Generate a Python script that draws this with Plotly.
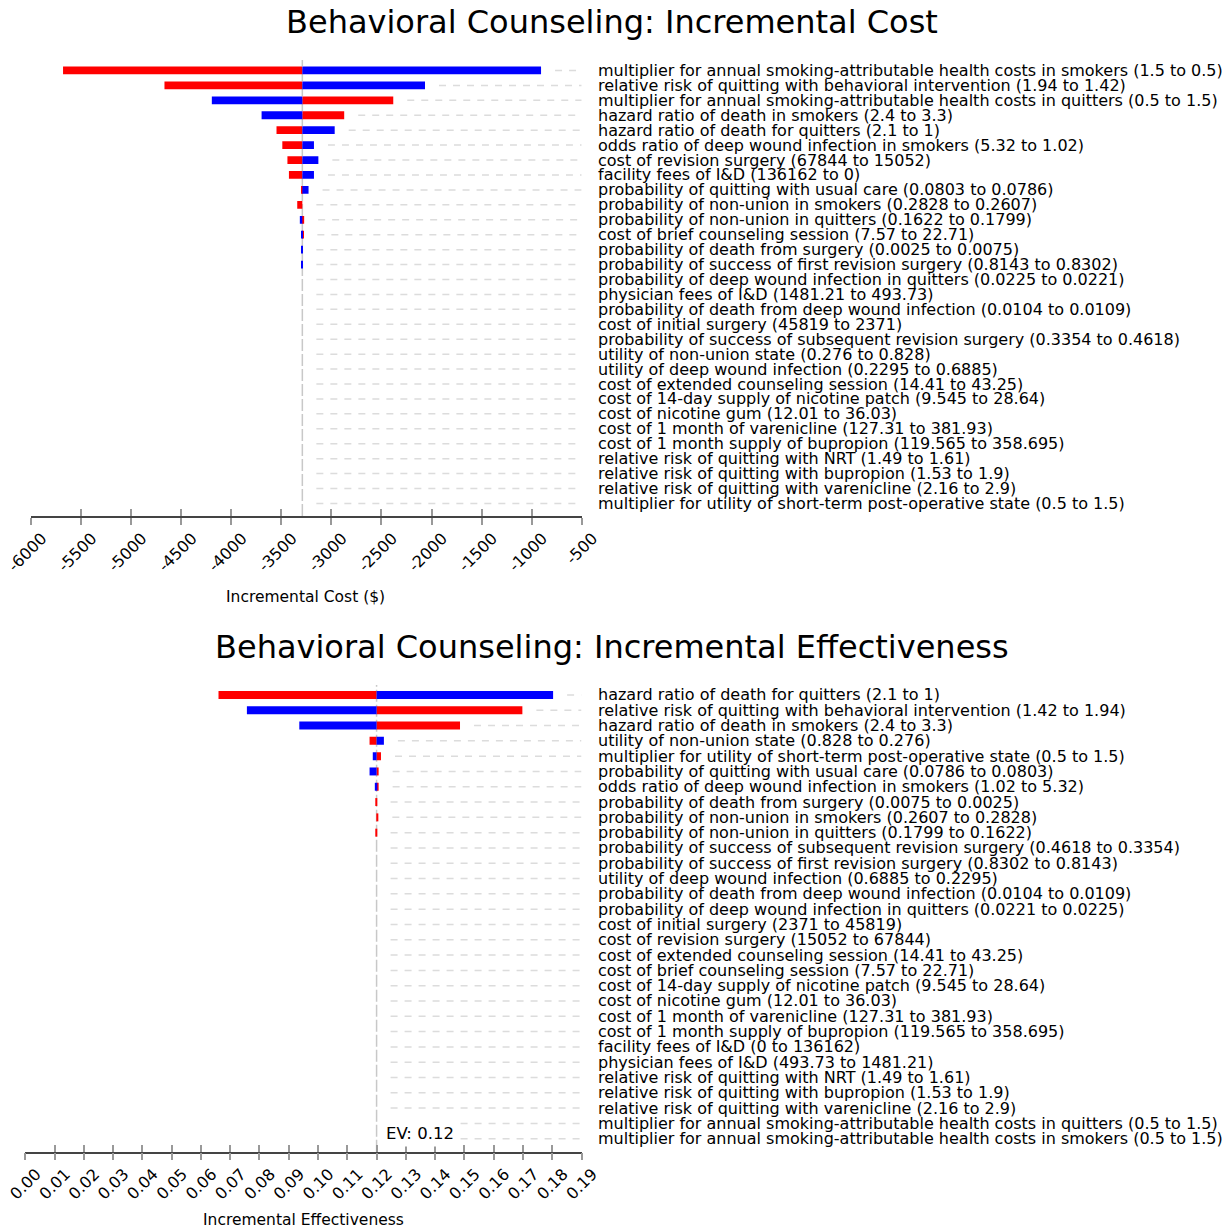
import plotly.graph_objects as go

# ---------------- data ----------------
cost_labels = [
    "multiplier for annual smoking-attributable health costs in smokers (1.5 to 0.5)",
    "relative risk of quitting with behavioral intervention (1.94 to 1.42)",
    "multiplier for annual smoking-attributable health costs in quitters (0.5 to 1.5)",
    "hazard ratio of death in smokers (2.4 to 3.3)",
    "hazard ratio of death for quitters (2.1 to 1)",
    "odds ratio of deep wound infection in smokers (5.32 to 1.02)",
    "cost of revision surgery (67844 to 15052)",
    "facility fees of I&D (136162 to 0)",
    "probability of quitting with usual care (0.0803 to 0.0786)",
    "probability of non-union in smokers (0.2828 to 0.2607)",
    "probability of non-union in quitters (0.1622 to 0.1799)",
    "cost of brief counseling session (7.57 to 22.71)",
    "probability of death from surgery (0.0025 to 0.0075)",
    "probability of success of first revision surgery (0.8143 to 0.8302)",
    "probability of deep wound infection in quitters (0.0225 to 0.0221)",
    "physician fees of I&D (1481.21 to 493.73)",
    "probability of death from deep wound infection (0.0104 to 0.0109)",
    "cost of initial surgery (45819 to 2371)",
    "probability of success of subsequent revision surgery (0.3354 to 0.4618)",
    "utility of non-union state (0.276 to 0.828)",
    "utility of deep wound infection (0.2295 to 0.6885)",
    "cost of extended counseling session (14.41 to 43.25)",
    "cost of 14-day supply of nicotine patch (9.545 to 28.64)",
    "cost of nicotine gum (12.01 to 36.03)",
    "cost of 1 month of varenicline (127.31 to 381.93)",
    "cost of 1 month supply of bupropion (119.565 to 358.695)",
    "relative risk of quitting with NRT (1.49 to 1.61)",
    "relative risk of quitting with bupropion (1.53 to 1.9)",
    "relative risk of quitting with varenicline (2.16 to 2.9)",
    "multiplier for utility of short-term post-operative state (0.5 to 1.5)",
]
cost_ev = -3290
cost_red = [-5680, -4667, -2382, -2872, -3548, -3490, -3439, -3424, -3301, -3341,
            -3272, -3280, -3290, -3290, -3290, -3290, -3290, -3290, -3290, -3290,
            -3290, -3290, -3290, -3290, -3290, -3290, -3290, -3290, -3290, -3290]
cost_blue = [-906, -2065, -4194, -3697, -2967, -3174, -3130, -3174, -3228, -3290,
             -3315, -3300, -3300, -3300, -3290, -3290, -3290, -3290, -3290, -3290,
             -3290, -3290, -3290, -3290, -3290, -3290, -3290, -3290, -3290, -3290]
cost_ticks = [-6000, -5500, -5000, -4500, -4000, -3500, -3000, -2500, -2000, -1500, -1000, -500]
cost_tick_text = ["-6000", "-5500", "-5000", "-4500", "-4000", "-3500", "-3000", "-2500",
                  "-2000", "-1500", "-1000", "-500"]

eff_labels = [
    "hazard ratio of death for quitters (2.1 to 1)",
    "relative risk of quitting with behavioral intervention (1.42 to 1.94)",
    "hazard ratio of death in smokers (2.4 to 3.3)",
    "utility of non-union state (0.828 to 0.276)",
    "multiplier for utility of short-term post-operative state (0.5 to 1.5)",
    "probability of quitting with usual care (0.0786 to 0.0803)",
    "odds ratio of deep wound infection in smokers (1.02 to 5.32)",
    "probability of death from surgery (0.0075 to 0.0025)",
    "probability of non-union in smokers (0.2607 to 0.2828)",
    "probability of non-union in quitters (0.1799 to 0.1622)",
    "probability of success of subsequent revision surgery (0.4618 to 0.3354)",
    "probability of success of first revision surgery (0.8302 to 0.8143)",
    "utility of deep wound infection (0.6885 to 0.2295)",
    "probability of death from deep wound infection (0.0104 to 0.0109)",
    "probability of deep wound infection in quitters (0.0221 to 0.0225)",
    "cost of initial surgery (2371 to 45819)",
    "cost of revision surgery (15052 to 67844)",
    "cost of extended counseling session (14.41 to 43.25)",
    "cost of brief counseling session (7.57 to 22.71)",
    "cost of 14-day supply of nicotine patch (9.545 to 28.64)",
    "cost of nicotine gum (12.01 to 36.03)",
    "cost of 1 month of varenicline (127.31 to 381.93)",
    "cost of 1 month supply of bupropion (119.565 to 358.695)",
    "facility fees of I&D (0 to 136162)",
    "physician fees of I&D (493.73 to 1481.21)",
    "relative risk of quitting with NRT (1.49 to 1.61)",
    "relative risk of quitting with bupropion (1.53 to 1.9)",
    "relative risk of quitting with varenicline (2.16 to 2.9)",
    "multiplier for annual smoking-attributable health costs in quitters (0.5 to 1.5)",
    "multiplier for annual smoking-attributable health costs in smokers (0.5 to 1.5)",
]
eff_ev = 0.12
eff_red = [0.0660, 0.1698, 0.1485, 0.1176, 0.1215, 0.1207, 0.1207, 0.1197, 0.1206, 0.1197,
           0.12, 0.12, 0.12, 0.12, 0.12, 0.12, 0.12, 0.12, 0.12, 0.12,
           0.12, 0.12, 0.12, 0.12, 0.12, 0.12, 0.12, 0.12, 0.12, 0.12]
eff_blue = [0.1803, 0.0757, 0.0936, 0.1225, 0.1187, 0.1176, 0.1194, 0.12, 0.12, 0.12,
            0.12, 0.12, 0.12, 0.12, 0.12, 0.12, 0.12, 0.12, 0.12, 0.12,
            0.12, 0.12, 0.12, 0.12, 0.12, 0.12, 0.12, 0.12, 0.12, 0.12]
eff_ticks = [0.00, 0.01, 0.02, 0.03, 0.04, 0.05, 0.06, 0.07, 0.08, 0.09,
             0.10, 0.11, 0.12, 0.13, 0.14, 0.15, 0.16, 0.17, 0.18, 0.19]
eff_tick_text = ["0.00", "0.01", "0.02", "0.03", "0.04", "0.05", "0.06", "0.07", "0.08", "0.09",
                 "0.10", "0.11", "0.12", "0.13", "0.14", "0.15", "0.16", "0.17", "0.18", "0.19"]

# ---------------- styling ----------------
W, H = 1231, 1230
FONT = "DejaVu Sans"
RED, BLUE = "#ff0000", "#0000ff"
DASH_COLOR = "#dcdcdc"


def px(x):
    return x / W


def py(y):
    return 1 - y / H


charts = [
    dict(labels=cost_labels, red=cost_red, blue=cost_blue, ev=cost_ev,
         ticks=cost_ticks, ticktext=cost_tick_text, rng=[-6000, -500],
         xa="x", ya="y", xa_in="x3", px_left=31, px_right=581.7, py_top=60, py_bot=516,
         yr=[29.84, -0.7], title="Behavioral Counseling: Incremental Cost", title_y=22,
         axis_title="Incremental Cost ($)", axis_title_x=305, axis_title_y=597,
         dash_gap_px=14),
    dict(labels=eff_labels, red=eff_red, blue=eff_blue, ev=eff_ev,
         ticks=eff_ticks, ticktext=eff_tick_text, rng=[0, 0.19],
         xa="x2", ya="y2", xa_in="x4", px_left=25.3, px_right=581.5, py_top=685, py_bot=1151.7,
         yr=[29.85, -0.65], title="Behavioral Counseling: Incremental Effectiveness", title_y=647,
         axis_title="Incremental Effectiveness", axis_title_x=303, axis_title_y=1220,
         dash_gap_px=14),
]

fig = go.Figure()
annotations = []
shapes = []
layout_axes = {}

for c in charts:
    labels, ev = c["labels"], c["ev"]
    span = c["rng"][1] - c["rng"][0]
    upp = span / (c["px_right"] - c["px_left"])  # data units per pixel
    gap = c["dash_gap_px"] * upp

    # dashed guide lines from end of bars to right edge
    dx, dy = [], []
    for lab, r, b in zip(labels, c["red"], c["blue"]):
        dx += [max(ev, r, b) + gap, c["rng"][1], None]
        dy += [lab, lab, None]
    fig.add_trace(go.Scatter(x=dx, y=dy, mode="lines", xaxis=c["xa"], yaxis=c["ya"],
                             line=dict(color=DASH_COLOR, width=1.5, dash="7px,7px"),
                             hoverinfo="skip", showlegend=False))

    for vals, col in ((c["red"], RED), (c["blue"], BLUE)):
        fig.add_trace(go.Bar(y=labels, x=[v - ev for v in vals], base=ev, orientation="h",
                             marker=dict(color=col, line=dict(width=0)), width=0.52,
                             xaxis=c["xa"], yaxis=c["ya"], showlegend=False))

    # invisible trace to carry the inner-tick overlay axis
    fig.add_trace(go.Scatter(x=[ev], y=[labels[0]], mode="markers", marker=dict(opacity=0),
                             xaxis=c["xa_in"], yaxis=c["ya"], hoverinfo="skip", showlegend=False))

    # EV reference line
    shapes.append(dict(type="line", xref=c["xa"], yref=c["ya"] + " domain", x0=ev, x1=ev, y0=0, y1=1,
                       line=dict(color="#c8c8c8", width=1.5, dash="12px,3px"), layer="below"))

    xdom = [px(c["px_left"]), px(c["px_right"])]
    ydom = [py(c["py_bot"]), py(c["py_top"])]
    xkey = "xaxis" if c["xa"] == "x" else "xaxis" + c["xa"][1:]
    ykey = "yaxis" if c["ya"] == "y" else "yaxis" + c["ya"][1:]
    xinkey = "xaxis" + c["xa_in"][1:]
    layout_axes[xkey] = dict(domain=xdom, anchor=c["ya"], range=c["rng"], tickmode="array",
                             tickvals=c["ticks"], ticktext=c["ticktext"], tickangle=-45,
                             ticks="outside", ticklen=7, tickwidth=1.5, tickcolor="#999999",
                             showline=True, linecolor="#444444", linewidth=1.5,
                             showgrid=False, zeroline=False, automargin=False,
                             ticklabeloverflow="allow", ticklabelshift=11, ticklabelstandoff=-2,
                             tickfont=dict(family=FONT, size=16, color="#000000"), fixedrange=True)
    layout_axes[xinkey] = dict(overlaying=c["xa"], anchor=c["ya"], range=c["rng"], tickmode="array",
                               tickvals=c["ticks"], ticks="inside", ticklen=7, tickwidth=1.5,
                               tickcolor="#999999", showticklabels=False, showline=False,
                               showgrid=False, zeroline=False, automargin=False, fixedrange=True)
    layout_axes[ykey] = dict(domain=ydom, anchor=c["xa"], type="category",
                             categoryorder="array", categoryarray=labels, range=c["yr"],
                             showticklabels=False, showgrid=False, zeroline=False,
                             showline=False, ticks="", automargin=False, fixedrange=True)

    for lab in labels:
        annotations.append(dict(x=px(596), xref="paper", y=lab, yref=c["ya"], text=lab,
                                showarrow=False, xanchor="left", yanchor="middle",
                                font=dict(family=FONT, size=16, color="#000000")))
    annotations.append(dict(x=px(612), xref="paper", y=py(c["title_y"]), yref="paper",
                            text=c["title"], showarrow=False, xanchor="center", yanchor="middle",
                            font=dict(family=FONT, size=32, color="#000000")))
    annotations.append(dict(x=px(c["axis_title_x"]), xref="paper", y=py(c["axis_title_y"]),
                            yref="paper", text=c["axis_title"], showarrow=False,
                            xanchor="center", yanchor="middle",
                            font=dict(family=FONT, size=15.5, color="#000000")))

annotations.append(dict(x=eff_ev, xref="x2", xshift=5, y=py(1133), yref="paper",
                        text="EV: 0.12", showarrow=False, xanchor="left", yanchor="middle",
                        bgcolor="#ffffff", borderpad=3,
                        font=dict(family=FONT, size=16.5, color="#000000")))

fig.update_layout(width=W, height=H, margin=dict(l=0, r=0, t=0, b=0), autosize=False,
                  paper_bgcolor="#ffffff", plot_bgcolor="#ffffff", barmode="overlay",
                  showlegend=False, annotations=annotations, shapes=shapes,
                  font=dict(family=FONT), **layout_axes)

fig.write_html("out.html", config={"displayModeBar": False},
               post_script="document.body.style.margin='0px';document.body.style.overflow='hidden';")
